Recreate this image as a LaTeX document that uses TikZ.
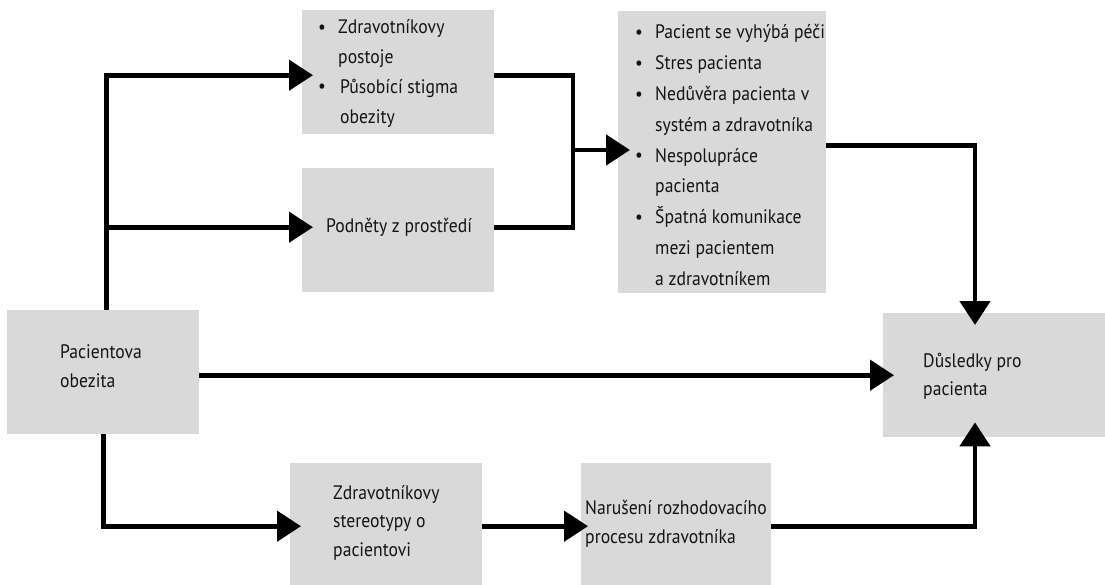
\documentclass[tikz,border=0pt]{standalone}
\usepackage{fontspec}
\setmainfont{PT Sans}[FakeStretch=0.905]
\usetikzlibrary{arrows.meta,calc}

\newcommand{\bul}{\makebox[17pt][l]{\hspace*{-3pt}{\fontsize{19}{19}\selectfont\raisebox{0.5pt}{•}}}}
\newcommand{\ind}{\hspace*{17pt}}
\newcommand{\lines}[1]{\begin{tabular}[t]{@{}l@{}}#1\end{tabular}}

\begin{document}
\begin{tikzpicture}[x=1pt,y=-1pt,
  box/.style={fill=boxgray, draw=none, anchor=north west, inner sep=0pt},
  label/.style={anchor=base west, inner sep=0pt, text=black!92,
    font=\fontsize{19.5}{29.7}\selectfont},
  conn/.style={line width=4.8pt, draw=black},
  arr/.style={conn, -{Triangle[length=24pt,width=30pt]}},
]
\definecolor{boxgray}{HTML}{D9D9D9}
\useasboundingbox (0,0) rectangle (1105,585);

% boxes
\node[box, minimum width=192pt, minimum height=124pt] (A) at (302,10) {};
\node[box, minimum width=192pt, minimum height=124pt] (B) at (302,168) {};
\node[box, minimum width=208pt, minimum height=282pt] (C) at (618,11) {};
\node[box, minimum width=192pt, minimum height=124pt] (D) at (7,310) {};
\node[box, minimum width=192pt, minimum height=122pt] (E) at (290,463) {};
\node[box, minimum width=190pt, minimum height=122pt] (F) at (581,463) {};
\node[box, minimum width=222pt, minimum height=124pt] (G) at (883,313) {};

% texts
\node[label] (tA) at (321,34) {\lines{\bul Zdravotníkovy\\\ind postoje\\\bul\hspace*{2pt}Působící stigma\\\ind\hspace*{2pt}obezity}};
\node[label] (tB) at (326,233) {Podněty z prostředí};
\node[label, font=\fontsize{19.5}{30.8}\selectfont] (tC) at (638,39) {\lines{\bul Pacient se vyhýbá péči\\\bul Stres pacienta\\\bul Nedůvěra pacienta v\\\ind systém a zdravotníka\\\bul Nespolupráce\\\ind pacienta\\\bul Špatná komunikace\\\ind mezi pacientem\\\ind a zdravotníkem}};
\node[label] (tD) at (60,358) {\lines{Pacientova\\obezita}};
\node[label, font=\fontsize{19.5}{28.5}\selectfont] (tE) at (333,499) {\lines{Zdravotníkovy\\stereotypy o\\pacientovi}};
\node[label] (tF) at (585,514) {\lines{Narušení rozhodovacího\\procesu zdravotníka}};
\node[label, font=\fontsize{19.5}{28.5}\selectfont] (tG) at (923,367) {\lines{Důsledky pro\\pacienta}};

% trunk on the left and junction between the two upper boxes
\coordinate (trunk) at ($(D.north)+(3,0)$);
\coordinate (j) at (573,150);

% connectors
\draw[arr] (trunk) |- ($(A.west)+(11,3)$);
\draw[arr] ($(trunk |- B.west)+(0,-3)$) -- ($(B.west)+(11,-3)$);
\draw[conn] ($(A.east)+(0,3)$) -| (j) |- ($(B.east)+(0,-3)$);
\draw[arr] (j) -- ($(j -| C.west)+(12,0)$);
\draw[arr] ($(C.east)+(0,-7)$) -| ($(G.north west)+(92,12)$);
\draw[arr] ($(D.east)+(0,3)$) -- ($(D.east -| G.west)+(11,3)$);
\draw[arr] (D.south) |- ($(E.west)+(11,2)$);
\draw[arr] ($(E.east)+(0,2)$) -- ($(E.east -| F.west)+(7,2)$);
\draw[arr] ($(F.east)+(0,2)$) -| ($(G.south west)+(92,-15)$);
\end{tikzpicture}
\end{document}
